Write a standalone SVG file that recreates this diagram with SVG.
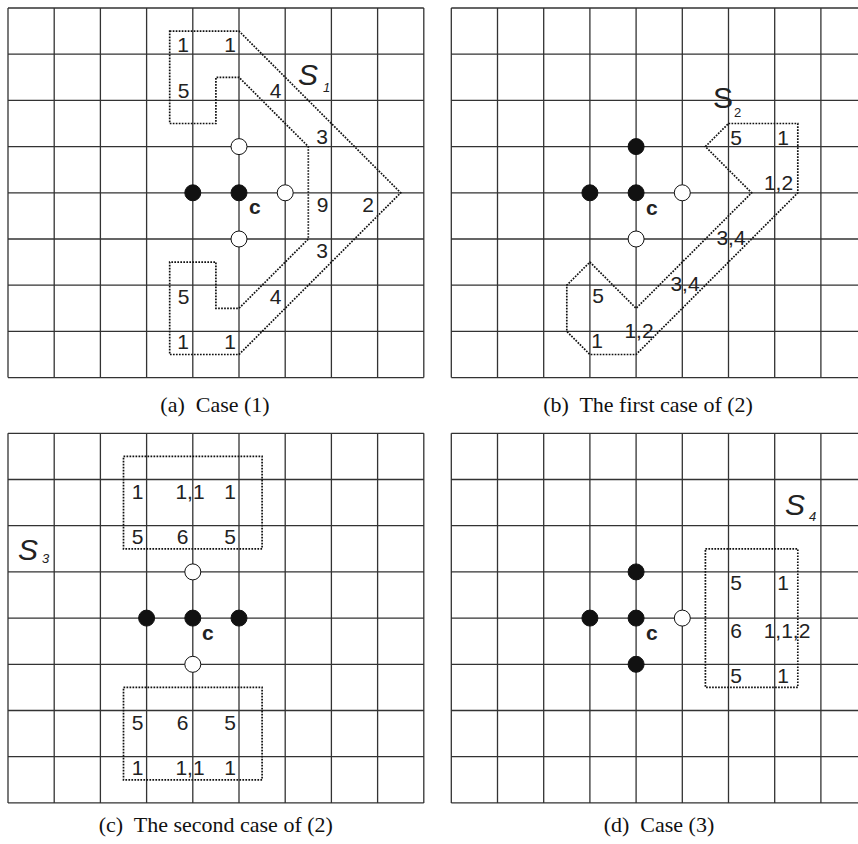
<svg xmlns="http://www.w3.org/2000/svg" width="858" height="844" viewBox="0 0 858 844">
<style>
.grid{fill:none;stroke:#333;stroke-width:1.3}
.dot{fill:none;stroke:#111;stroke-width:1.7;stroke-dasharray:1.7 1.3}
.st{fill:#111;stroke:#111;stroke-width:1}
.em{fill:#fff;stroke:#111;stroke-width:1}
.n{font-family:"Liberation Sans",Arial,sans-serif;font-size:21px;fill:#222;text-anchor:middle}
.c{font-family:"Liberation Sans",Arial,sans-serif;font-size:21px;font-weight:bold;fill:#222}
.s{font-family:"Liberation Sans",Arial,sans-serif;font-size:30px;font-style:italic;fill:#222}
.sub{font-family:"Liberation Sans",Arial,sans-serif;font-size:13px;font-style:italic;fill:#222}
.cap{font-family:"Liberation Serif","Times New Roman",serif;font-size:22px;fill:#111;text-anchor:middle;white-space:pre}
</style>
<defs>
<path id="g" class="grid" d="M0,0V369.6M46.2,0V369.6M92.4,0V369.6M138.6,0V369.6M184.8,0V369.6M231,0V369.6M277.2,0V369.6M323.4,0V369.6M369.6,0V369.6M415.8,0V369.6M0,0H415.8M0,46.2H415.8M0,92.4H415.8M0,138.6H415.8M0,184.8H415.8M0,231H415.8M0,277.2H415.8M0,323.4H415.8M0,369.6H415.8"/>
</defs>

<g id="panel-a">
<use href="#g" x="8" y="8"/>
<g id="a-region" transform="translate(8,8)">
<polygon class="dot" points="161.7,23.1 231,23.1 392.7,184.8 231,346.5 161.7,346.5 161.7,254.1 207.9,254.1 207.9,300.3 231,300.3 300.3,231 300.3,138.6 231,69.3 207.9,69.3 207.9,115.5 161.7,115.5"/>
</g>
<g id="a-stones">
<circle class="st" cx="192.8" cy="192.8" r="8"/>
<circle class="st" cx="239" cy="192.8" r="8"/>
<circle class="em" cx="239" cy="146.6" r="8"/>
<circle class="em" cx="285.2" cy="192.8" r="8"/>
<circle class="em" cx="239" cy="239" r="8"/>
</g>
<g id="a-labels">
<text class="n" x="183" y="52">1</text>
<text class="n" x="230" y="52">1</text>
<text class="n" x="183.5" y="97.5">5</text>
<text class="n" x="275.5" y="97.5">4</text>
<text class="n" x="322" y="144">3</text>
<text class="n" x="322.5" y="211.7">9</text>
<text class="n" x="368" y="211.7">2</text>
<text class="n" x="322" y="258">3</text>
<text class="n" x="183.5" y="303.5">5</text>
<text class="n" x="275.5" y="303.5">4</text>
<text class="n" x="183" y="348.5">1</text>
<text class="n" x="230" y="348.5">1</text>
<text class="c" x="249" y="214.3">c</text>
<text class="s" x="298" y="85">S</text>
<text class="sub" x="323" y="92">1</text>
</g>
</g>

<g id="panel-b">
<use href="#g" x="451.3" y="8"/>
<g id="b-region" transform="translate(451.3,8)">
<polygon class="dot" points="277.2,115.5 346.5,115.5 346.5,184.8 184.8,346.5 138.6,346.5 115.5,323.4 115.5,277.2 138.6,254.1 184.8,300.3 300.3,184.8 254.1,138.6"/>
</g>
<g id="b-stones">
<circle class="st" cx="589.9" cy="192.8" r="8"/>
<circle class="st" cx="636.1" cy="146.6" r="8"/>
<circle class="st" cx="636.1" cy="192.8" r="8"/>
<circle class="em" cx="682.3" cy="192.8" r="8"/>
<circle class="em" cx="636.1" cy="239" r="8"/>
</g>
<g id="b-labels">
<text class="n" x="736" y="145">5</text>
<text class="n" x="783" y="145">1</text>
<text class="n" x="778.5" y="189.5">1,2</text>
<text class="n" x="731" y="245">3,4</text>
<text class="n" x="685" y="291">3,4</text>
<text class="n" x="598" y="302.7">5</text>
<text class="n" x="639" y="338.3">1,2</text>
<text class="n" x="597" y="348">1</text>
<text class="c" x="646" y="215">c</text>
<text class="s" x="713" y="108" style="font-style:normal">S</text>
<text class="sub" x="734" y="117" style="font-style:normal">2</text>
</g>
</g>

<g id="panel-c">
<use href="#g" x="8" y="433.3"/>
<g id="c-regions" transform="translate(8,433.3)">
<rect class="dot" x="115.5" y="23.1" width="138.6" height="92.4"/>
<rect class="dot" x="115.5" y="254.1" width="138.6" height="92.4"/>
</g>
<g id="c-stones">
<circle class="st" cx="146.6" cy="618.1" r="8"/>
<circle class="st" cx="192.8" cy="618.1" r="8"/>
<circle class="st" cx="239" cy="618.1" r="8"/>
<circle class="em" cx="192.8" cy="571.9" r="8"/>
<circle class="em" cx="192.8" cy="664.3" r="8"/>
</g>
<g id="c-labels">
<text class="n" x="137.5" y="498.5">1</text>
<text class="n" x="190" y="498.5">1,1</text>
<text class="n" x="230" y="498.5">1</text>
<text class="n" x="137.5" y="544">5</text>
<text class="n" x="182.5" y="544">6</text>
<text class="n" x="230" y="544">5</text>
<text class="n" x="137.5" y="730">5</text>
<text class="n" x="182.5" y="730">6</text>
<text class="n" x="230" y="730">5</text>
<text class="n" x="137.5" y="775">1</text>
<text class="n" x="190" y="775">1,1</text>
<text class="n" x="230" y="775">1</text>
<text class="c" x="202" y="640">c</text>
<text class="s" x="18" y="560">S</text>
<text class="sub" x="42" y="563">3</text>
</g>
</g>

<g id="panel-d">
<use href="#g" x="451.3" y="433.3"/>
<g id="d-region" transform="translate(451.3,433.3)">
<rect class="dot" x="254.1" y="115.5" width="92.4" height="138.6"/>
</g>
<g id="d-stones">
<circle class="st" cx="589.9" cy="618.1" r="8"/>
<circle class="st" cx="636.1" cy="571.9" r="8"/>
<circle class="st" cx="636.1" cy="618.1" r="8"/>
<circle class="st" cx="636.1" cy="664.3" r="8"/>
<circle class="em" cx="682.3" cy="618.1" r="8"/>
</g>
<g id="d-labels">
<text class="n" x="736" y="590">5</text>
<text class="n" x="783" y="590">1</text>
<text class="n" x="736" y="637.5">6</text>
<text class="n" x="787" y="637.5">1,1,2</text>
<text class="n" x="736" y="683">5</text>
<text class="n" x="783" y="683">1</text>
<text class="c" x="646" y="640">c</text>
<text class="s" x="785" y="515">S</text>
<text class="sub" x="809" y="521">4</text>
</g>
</g>

<g id="captions">
<text class="cap" x="215" y="411.5">(a)  Case (1)</text>
<text class="cap" x="648" y="411.5">(b)  The first case of (2)</text>
<text class="cap" x="215.8" y="832">(c)  The second case of (2)</text>
<text class="cap" x="659" y="832">(d)  Case (3)</text>
</g>
</svg>
